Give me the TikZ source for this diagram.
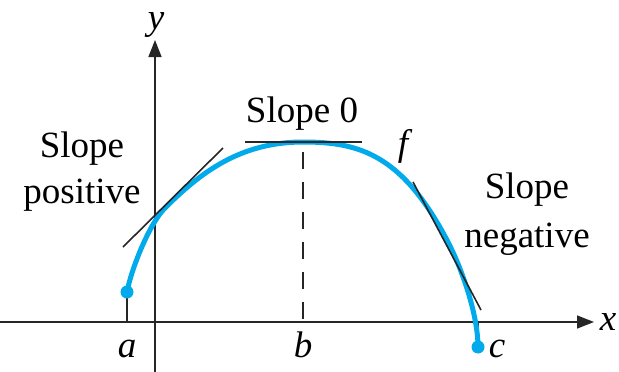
\documentclass[tikz,border=0pt]{standalone}
\usepackage{fontspec}
\newfontfamily\timesx{Liberation Serif}
\usetikzlibrary{arrows.meta}
\definecolor{curveblue}{RGB}{0,170,235}
\begin{document}
\begin{tikzpicture}[x=1pt,y=-1pt,
  axis/.style={line width=1.5pt,draw=black!85,-{Triangle[length=17pt,width=13pt]}},
  thin line/.style={line width=1.5pt,draw=black!85},
  tangent/.style={line width=1.6pt,draw=black!85},
  lbl/.style={font=\timesx\fontsize{37}{44}\selectfont,anchor=base,inner sep=0pt},
  ilbl/.style={font=\timesx\fontsize{37}{44}\selectfont\itshape,anchor=base,inner sep=0pt},
  dot/.style={circle,fill=curveblue,inner sep=0pt,minimum size=13pt}]
\path[use as bounding box] (0,0) rectangle (619,372);
% axes
\coordinate (xs) at (0,322);
\coordinate (xe) at (594,322);
\coordinate (ys) at (155,372);
\coordinate (ye) at (155,40);
\draw[axis] (xs) -- (xe);
\draw[axis] (ys) -- (ye);
% points
\coordinate (A) at (127,292);
\coordinate (Aax) at (127,322);
\coordinate (Q) at (165,208);
\coordinate (P) at (303,142);
\coordinate (M) at (447,240);
\coordinate (C) at (478,347);
\coordinate (Cax) at (478,322);
\coordinate (Btop) at (303,152);
\coordinate (Bax) at (303,322);
% ticks
\draw[thin line] (A) -- (Aax);
\draw[thin line] (Cax) -- (C);
\draw[thin line,dash pattern=on 17pt off 13pt] (Btop) -- (Bax);
% curve
\draw[curveblue,line width=5pt,line cap=round]
  (A) .. controls (131,270) and (149,224) .. (Q)
      .. controls (200,173) and (240,142) .. (P)
      .. controls (360,142) and (402,155) .. (M)
      .. controls (462,268.5) and (478,315) .. (C);
\node[dot] (dA) at (A) {};
\node[dot] (dC) at (C) {};
% tangents
\coordinate (t1a) at (123,247);
\coordinate (t1b) at (223,148);
\coordinate (t2a) at (245,142);
\coordinate (t2b) at (362,142);
\coordinate (t3a) at (413,182);
\coordinate (t3b) at (481,310);
\draw[tangent] (t1a) -- (t1b);
\draw[tangent] (t2a) -- (t2b);
\draw[tangent] (t3a) -- (t3b);
% labels
\node[ilbl] (ly) at (156,29) {y};
\node[ilbl] (lx) at (608,330) {x};
\node[ilbl] (la) at (127,357) {a};
\node[ilbl] (lb) at (303,357) {b};
\node[ilbl] (lc) at (497,357) {c};
\node[ilbl] (lf) at (403,155) {f};
\node[lbl] (s0) at (302,122) {Slope 0};
\node[lbl] (sp1) at (82,157) {Slope};
\node[lbl] (sp2) at (82,203) {positive};
\node[lbl] (sn1) at (527,198) {Slope};
\node[lbl] (sn2) at (527,247) {negative};
\end{tikzpicture}
\end{document}
